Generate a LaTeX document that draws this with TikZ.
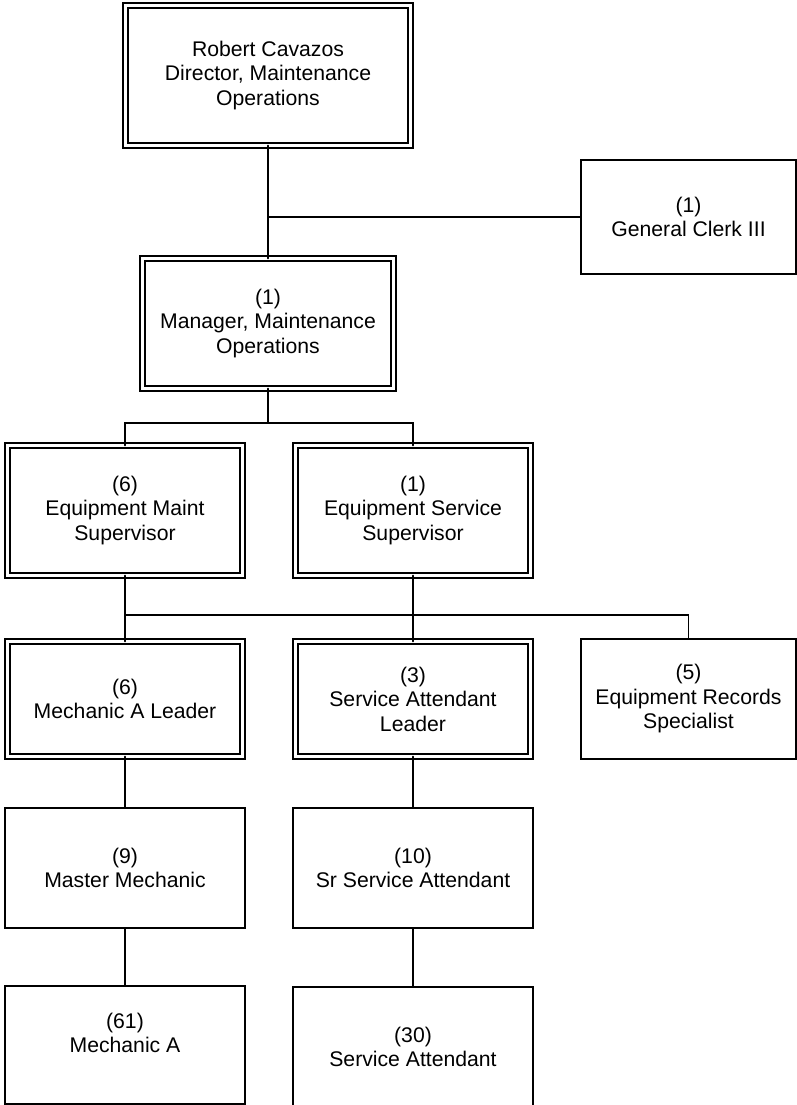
\documentclass[tikz,border=0pt]{standalone}
\usepackage{fontspec}
\setmainfont{Liberation Sans}

\begin{document}
\begin{tikzpicture}[x=1pt,y=-1pt,line cap=round,
    box/.style={draw,rectangle,line width=1.7pt,align=center,inner sep=0pt,outer sep=0pt,
        minimum width=240pt,minimum height=120pt,font=\fontsize{21.2}{24.5}\selectfont},
    dbox/.style={box,double,line width=1.5pt,double distance=3.3pt},
    link/.style={line width=1.8pt}]
    \useasboundingbox (0,0) rectangle (797,1105);
    \node[dbox,minimum width=285pt,minimum height=140pt] (dir) at (268,75.5) {Robert Cavazos\\Director, Maintenance\\Operations};
    \node[box,minimum width=215pt,minimum height=114pt] (clerk) at (688.5,217) {(1)\\General Clerk III};
    \node[dbox,minimum width=251pt,minimum height=130pt] (mgr) at (268,323.5) {(1)\\Manager, Maintenance\\Operations};
    \node[dbox,minimum width=235pt,minimum height=130pt] (esup) at (125,510.5) {(6)\\Equipment Maint\\Supervisor};
    \node[dbox,minimum width=235pt,minimum height=130pt] (ssup) at (413,510.5) {(1)\\Equipment Service\\Supervisor};
    \node[dbox,minimum width=235pt,minimum height=115pt] (mlead) at (125,699) {(6)\\Mechanic A Leader};
    \node[dbox,minimum width=235pt,minimum height=115pt] (slead) at (413,699) {(3)\\Service Attendant\\Leader};
    \node[box,minimum width=215pt] (rec) at (688.5,699) {(5)\\Equipment Records\\Specialist};
    \node[box] (mm) at (125,868) {(9)\\Master Mechanic};
    \node[box] (ssa) at (413,868) {(10)\\Sr Service Attendant};
    \node[box,minimum height=118pt] (mech) at (125,1045) {(61)\\Mechanic A\\\mbox{}};
    \node[box] (sa) at (413,1047) {(30)\\Service Attendant};
    \coordinate (bus1) at (268,423);
    \coordinate (bus2) at (413,615);
    \draw[link] (dir.south) -- (mgr.north);
    \draw[link] (dir.south |- clerk.west) -- (clerk.west);
    \draw[link] (mgr.south) -- (bus1);
    \draw[link] (esup.north) |- (bus1) -| (ssup.north);
    \draw[link] (esup.south) -- (mlead.north);
    \draw[link] (ssup.south) -- (slead.north);
    \draw[link] (esup.south |- bus2) -| (rec.north);
    \draw[link] (mlead.south) -- (mm.north);
    \draw[link] (mm.south) -- (mech.north);
    \draw[link] (slead.south) -- (ssa.north);
    \draw[link] (ssa.south) -- (sa.north);
\end{tikzpicture}
\end{document}
